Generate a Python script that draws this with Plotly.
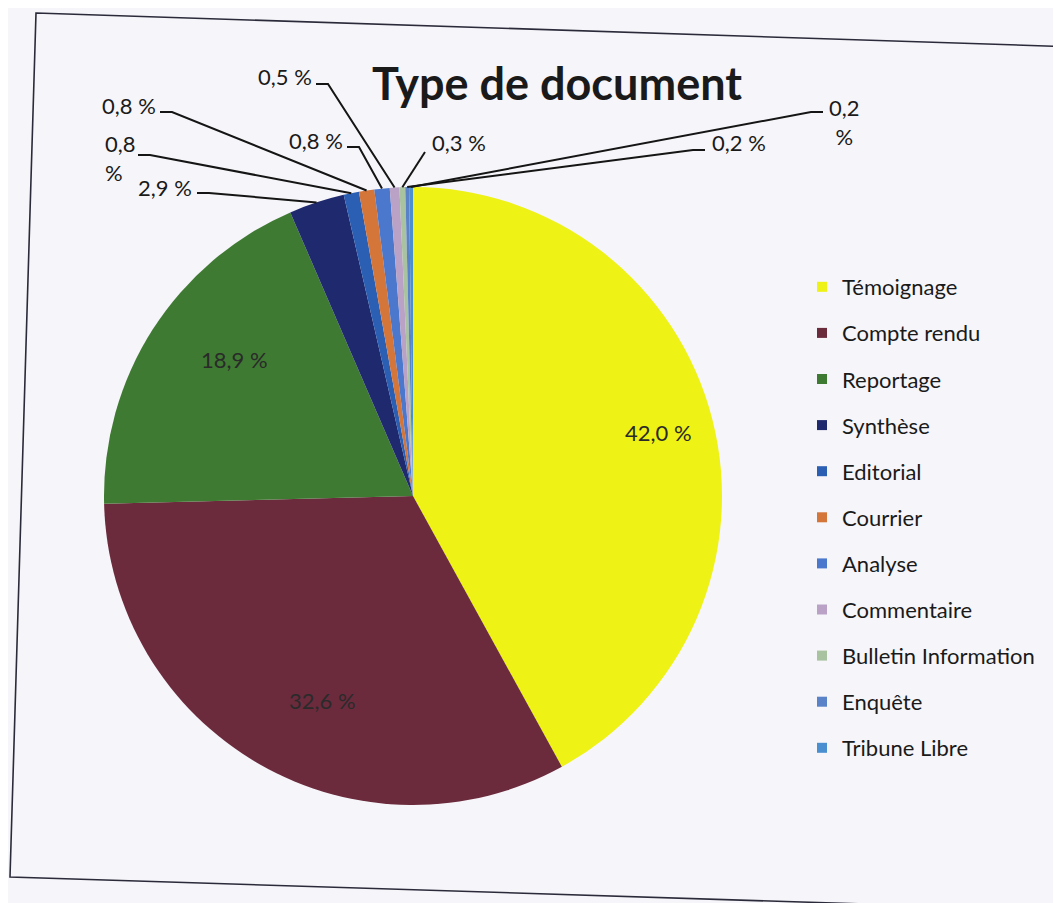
import math
import plotly.graph_objects as go

# ---- data ----
categories = ["Témoignage", "Compte rendu", "Reportage", "Synthèse", "Editorial",
              "Courrier", "Analyse", "Commentaire", "Bulletin Information",
              "Enquête", "Tribune Libre"]
values = [42.0, 32.6, 18.9, 2.9, 0.8, 0.8, 0.8, 0.5, 0.3, 0.2, 0.2]
colors = ["#eef215", "#6b2b3d", "#3f7a32", "#1f2a6e", "#2b5fb3", "#d4753a",
          "#4b78cc", "#b9a2c6", "#a9c29f", "#5a82c9", "#4a8fd0"]

W, H = 1061, 903
OFF = 8  # page body margin
def px(x):
    return (x - OFF) / W
def py(y):
    return 1 - (y - OFF) / H

# pie geometry (layout)
CX, CY, R = 413, 496, 309

fig = go.Figure()
fig.add_trace(go.Pie(
    labels=categories,
    values=values,
    sort=False,
    direction="clockwise",
    rotation=0,
    textinfo="none",
    showlegend=False,
    marker=dict(colors=colors, line=dict(width=0)),
    domain=dict(x=[px(CX - R), px(CX + R)], y=[py(CY + R), py(CY - R)]),
    hoverinfo="label+percent",
))

# legend entries (one per category, same colours)
for c, col in zip(categories, colors):
    fig.add_trace(go.Scatter(
        x=[None], y=[None], mode="markers", name=c, legendgroup=c,
        marker=dict(symbol="square", size=10, color=col),
        hoverinfo="skip",
    ))

def fmt(v):
    return f"{v:.1f}".replace(".", ",") + " %"

total = sum(values)
mids = []
cum = 0.0
for v in values:
    mids.append(2 * math.pi * (cum + v / 2) / total)
    cum += v

annotations = []
shapes = []
LBL = 22

# inside labels for big slices
for i in range(3):
    a = mids[i]
    x = CX + 0.82 * R * math.sin(a)
    y = CY - 0.82 * R * math.cos(a)
    annotations.append(dict(x=px(x), y=py(y), xref="paper", yref="paper",
                            text=fmt(values[i]), showarrow=False,
                            font=dict(family="Lato", size=LBL, color="#2a2a2a")))

# outside labels: (text x, text y, anchor, line start x, line start y, text override, align)
outside = {
    3: (194, 188, "right", 197, 193, None, "left"),
    4: (120, 158, "center", 138, 155, "0,8<br>%", "left"),
    5: (158, 105, "right", 160, 112, None, "left"),
    6: (345, 140, "right", 347, 147, None, "left"),
    7: (314, 77, "right", 316, 84, None, "left"),
    8: (430, 143, "left", 425, 152, None, "left"),
    9: (710, 143, "left", 705, 150, None, "left"),
    10: (827, 122, "left", 823, 112, "0,2<br>%", "center"),
}
for i, (tx, ty, anc, lx, ly, txt, al) in outside.items():
    a = mids[i]
    ex = CX + R * math.sin(a)
    ey = CY - R * math.cos(a)
    annotations.append(dict(x=px(tx), y=py(ty), xref="paper", yref="paper",
                            text=txt if txt else fmt(values[i]), showarrow=False,
                            xanchor=anc, yanchor="middle", align=al,
                            font=dict(family="Lato", size=LBL, color="#1a1a1a")))
    stub = 12 if lx < ex else -12
    if i == 8:
        path = f"M{px(lx)},{py(ly)} L{px(ex)},{py(ey)}"
    else:
        path = (f"M{px(lx)},{py(ly)} L{px(lx + stub)},{py(ly)} "
                f"L{px(ex)},{py(ey)}")
    shapes.append(dict(type="path", xref="paper", yref="paper", path=path,
                       line=dict(color="#151515", width=2)))

# scanned frame
shapes.append(dict(type="path", xref="paper", yref="paper",
                   path=(f"M{px(36)},{py(13)} L{px(1078)},{py(47)} "
                         f"L{px(1054)},{py(910)} L{px(10)},{py(877)} Z"),
                   line=dict(color="#2a2a3a", width=1.6)))

fig.update_layout(
    width=W, height=H,
    margin=dict(l=0, r=0, t=0, b=0),
    paper_bgcolor="#f6f5f9",
    plot_bgcolor="#f6f5f9",
    xaxis=dict(visible=False),
    yaxis=dict(visible=False),
    title=dict(text="<b>Type de document</b>", x=px(557), y=py(84),
               xanchor="center", yanchor="middle",
               font=dict(family="Lato", size=45, color="#1a1a1a")),
    legend=dict(x=px(802), y=py(266), xanchor="left", yanchor="top",
                valign="middle", bgcolor="rgba(0,0,0,0)", tracegroupgap=14.5,
                font=dict(family="Lato", size=22, color="#1a1a1a")),
    annotations=annotations,
    shapes=shapes,
)

fig.write_html("out.html")
